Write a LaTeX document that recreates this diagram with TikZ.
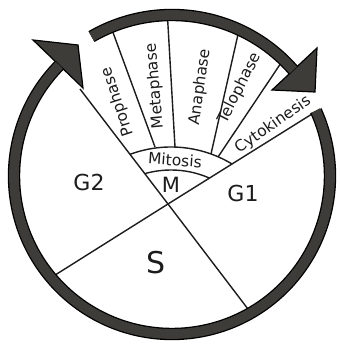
\documentclass[tikz,border=0pt]{standalone}
\usepackage{fontspec}
\setmainfont{DejaVu Sans}
\usetikzlibrary{calc}
\definecolor{ringcol}{RGB}{62,60,56}
\definecolor{inkcol}{RGB}{28,28,28}
\begin{document}
\begin{tikzpicture}[x=1pt,y=1pt,
  thin/.style={draw=inkcol, line width=1.4pt},
  ringsty/.style={draw=black, line width=1.3pt, double=ringcol, double distance=9.8pt},
  headsty/.style={fill=ringcol, draw=black, line width=1.2pt, line join=miter},
  lab/.style={inner sep=0pt, text=inkcol, font=\fontsize{15.5}{18}\selectfont},
  phase/.style={inner sep=0pt, text=inkcol, font=\fontsize{22}{26}\selectfont}]
\useasboundingbox (0,0) rectangle (340,345);
\fill[white] (0,0) rectangle (340,345);
\coordinate (C) at (172,169);
\coordinate (X) at (168,141);
\coordinate (O) at (171,80);
\coordinate (Atop) at (80,256);
\coordinate (Abot) at (251,32);
\coordinate (Bbot) at (52,68);
\coordinate (Btop) at (320,236);
% main dividing lines
\draw[thin] (Atop) -- (X) -- (Abot);
\draw[thin] (Bbot) -- (X) -- (Btop);
% radial phase lines
\coordinate (l1a) at (155,198); \coordinate (l1b) at (111,318);
\coordinate (l2a) at (175,198); \coordinate (l2b) at (167.5,328);
\coordinate (l3a) at (211,191); \coordinate (l3b) at (239,315);
\coordinate (l4a) at (218,188); \coordinate (l4b) at (283,285);
\draw[thin] (l1a) -- (l1b);
\draw[thin] (l2a) -- (l2b);
\draw[thin] (l3a) -- (l3b);
\draw[thin] (l4a) -- (l4b);
% mitosis arcs
\begin{scope}
  \clip (X) -- ($(X)!2!(Atop)$) -- ($(X)!2!(Btop)$) -- cycle;
  \draw[thin] (O) circle[radius=95];
  \draw[thin] (O) circle[radius=118];
\end{scope}
% arrowheads
\draw[headsty] (33,305) -- (78,300) -- (83,257) -- cycle;
\draw[headsty] (317,297) -- (315,253) -- (272,255) -- cycle;
% ring and top arc
\draw[ringsty] ([shift={(135.5:158)}]C) arc[start angle=135.5, end angle=384.4, radius=158];
\draw[ringsty] ([shift={(120:161)}]C) arc[start angle=120, end angle=41.1, radius=161];
% labels
\node[lab, rotate=108] (pro) at (118,243) {Prophase};
\node[lab, rotate=95] (met) at (155,259) {Metaphase};
\node[lab, rotate=82] (ana) at (200,258) {Anaphase};
\node[lab, rotate=63] (tel) at (240,257) {Telophase};
\node[lab, rotate=35] (cyt) at (273,220) {Cytokinesis};
\node[lab, rotate=-4] (mit) at (175,185) {Mitosis};
\node[inner sep=0pt, text=inkcol, font=\fontsize{21}{24}\selectfont] (m) at (171,160) {M};
\node[phase] (g2) at (89,163) {G2};
\node[phase] (g1) at (243,152) {G1};
\node[inner sep=0pt, text=inkcol, font=\fontsize{30}{34}\selectfont] (s) at (156,82) {S};
\end{tikzpicture}
\end{document}
